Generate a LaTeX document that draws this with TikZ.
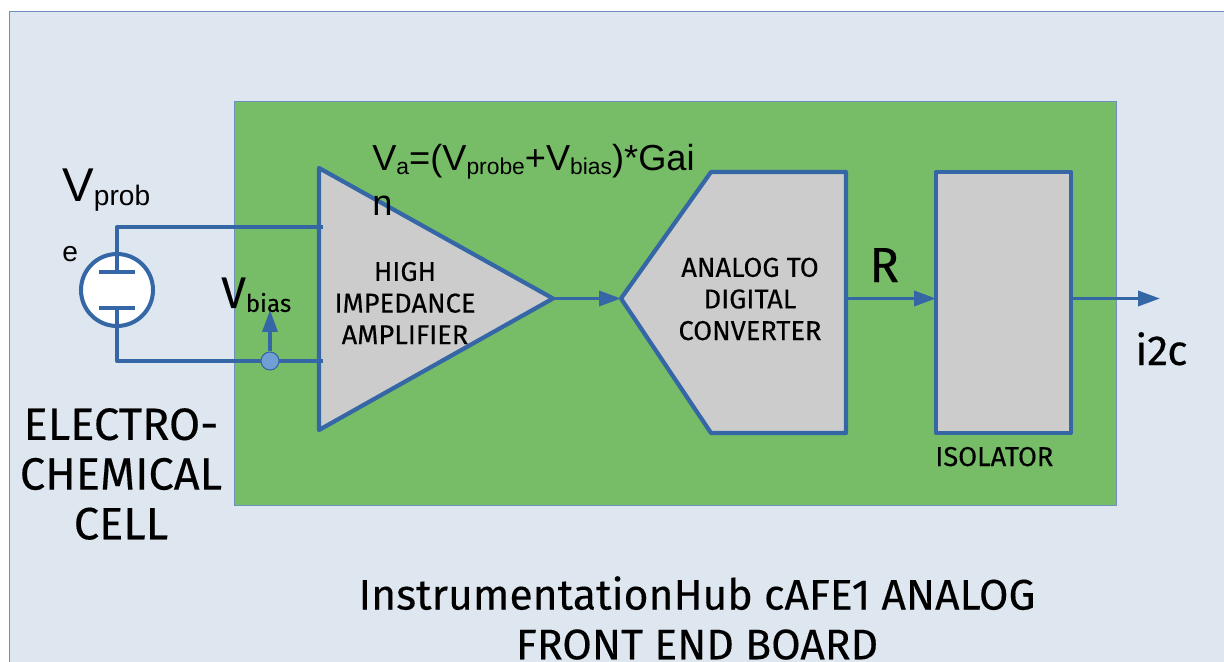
\documentclass[tikz,border=0pt]{standalone}
\usepackage{fontspec}
\setmainfont{Liberation Sans}
\newfontfamily\dinfont[FakeBold=0.25]{Fira Sans}
\usetikzlibrary{arrows.meta}
\definecolor{panelblue}{HTML}{DEE6F0}
\definecolor{boardgreen}{HTML}{77BC66}
\definecolor{wireblue}{HTML}{3566A6}
\definecolor{edgeblue}{HTML}{6F8FBF}
\definecolor{blockgray}{HTML}{CCCCCC}
\definecolor{dotblue}{HTML}{6F9FD3}
\newcommand{\lowtxt}[2]{\raisebox{-2.2pt}{\fontsize{#1}{#1}\selectfont #2}}
\begin{document}
\begin{tikzpicture}[
    x=0.02cm, y=-0.02cm,
    wire/.style={draw=wireblue, line width=2.3pt},
    sig/.style={draw=wireblue, line width=2.1pt, -{Triangle[length=12.5pt,width=8.5pt]}},
    block/.style={draw=wireblue, fill=blockgray, line width=2.4pt, line join=round},
    din/.style={font=\dinfont\fontsize{15.5pt}{18pt}\selectfont, align=center, inner sep=0pt},
    bigdin/.style={font=\dinfont\fontsize{25.7pt}{28.3pt}\selectfont, align=center, inner sep=0pt},
    titledin/.style={font=\dinfont\fontsize{24.3pt}{28.3pt}\selectfont, align=center, inner sep=0pt}
]
    \useasboundingbox (0,0) rectangle (1224,662);
    \clip (0,0) rectangle (1224,662);
    % Panels
    \node[draw=edgeblue, fill=panelblue, line width=0.7pt, minimum width=24.6cm, minimum height=13.4cm, inner sep=0pt, anchor=north west] (panel) at (9,11) {};
    \node[draw=edgeblue, fill=boardgreen, line width=0.7pt, minimum width=17.64cm, minimum height=8.08cm, inner sep=0pt, anchor=north west] (board) at (234,101) {};

    % Ports
    \coordinate (amptop) at (319,168);
    \coordinate (ampout) at (553,298.5);
    \coordinate (ampbot) at (319,430);
    \coordinate (ampinp) at (323,227);
    \coordinate (ampinn) at (323,361);
    \coordinate (adcin) at (621,298.5);
    \coordinate (adcout) at (846,298.5);
    \coordinate (isoin) at (936,298.5);
    \coordinate (isoout) at (1071,298.5);
    \coordinate (i2cend) at (1160,298.5);
    \coordinate (biasend) at (270,310);
    \coordinate (cellcorner1) at (117,227);
    \coordinate (cellcorner2) at (117,361);
    \coordinate (plate1l) at (99,272);
    \coordinate (plate1r) at (135,272);
    \coordinate (plate2l) at (99,308);
    \coordinate (plate2r) at (135,308);
    \coordinate (plate1) at (117,272);
    \coordinate (plate2) at (117,308);

    % Blocks
    \draw[block] (amptop) -- (ampout) -- (ampbot) -- cycle;
    \draw[block] (adcin) -- (711,172) -- (846,172) -- (846,433) -- (711,433) -- cycle;
    \node[block, minimum width=2.7cm, minimum height=5.22cm, inner sep=0pt] (isolator) at (1003.5,302.5) {};

    % Cell
    \node[circle, draw=wireblue, fill=white, line width=2.3pt, minimum size=1.44cm, inner sep=0pt] (cell) at (117,290) {};
    \draw[wire, line join=round] (ampinp) -- (cellcorner1) -- (plate1);
    \draw[wire, line join=round] (ampinn) -- (cellcorner2) -- (plate2);
    \draw[wire] (plate1l) -- (plate1r);
    \draw[wire] (plate2l) -- (plate2r);

    % Signals
    \node[circle, draw=wireblue, fill=dotblue, line width=0.6pt, minimum size=0.36cm, inner sep=0pt] (junction) at (270,361) {};
    \draw[sig] (junction) -- (biasend);
    \draw[sig] (ampout) -- (adcin);
    \draw[sig] (adcout) -- (isoin);
    \draw[sig] (isoout) -- (i2cend);

    % Labels
    \node[din] (amplabel) at (405,303) {HIGH\\IMPEDANCE\\AMPLIFIER};
    \node[din] (adclabel) at (750,299) {ANALOG TO\\DIGITAL\\CONVERTER};
    \node[din, anchor=base west] (isolabel) at (935,466) {ISOLATOR};
    \node[bigdin] (celllabel) at (121,474) {ELECTRO-\\CHEMICAL\\CELL};
    \node[titledin] (title) at (697,618) {InstrumentationHub cAFE1 ANALOG\\FRONT END BOARD};
    \node[anchor=base west, inner sep=0pt, font=\fontsize{27pt}{30pt}\selectfont] (vprob) at (62,202) {V\lowtxt{16pt}{prob}};
    \node[anchor=base west, inner sep=0pt, font=\fontsize{16pt}{20pt}\selectfont] (eletter) at (62,262) {e};
    \node[anchor=base west, inner sep=0pt, font=\dinfont\fontsize{25pt}{28pt}\selectfont] (vbias) at (221,308) {V\lowtxt{13.8pt}{bias}};
    \node[anchor=base west, inner sep=0pt, font=\dinfont\fontsize{28pt}{30pt}\selectfont] (rlabel) at (869,282) {R};
    \node[anchor=base west, inner sep=0pt, font=\dinfont\fontsize{24pt}{26pt}\selectfont] (i2c) at (1135,365) {i2c};
    \node[anchor=base west, inner sep=0pt, font=\fontsize{20.6pt}{25pt}\selectfont] (vaeq) at (372,171) {V\lowtxt{13pt}{a}=(V\lowtxt{13pt}{probe}+V\lowtxt{13pt}{bias})*Gai};
    \node[anchor=base west, inner sep=0pt, font=\fontsize{20.6pt}{25pt}\selectfont] (vaeqtail) at (372,216) {n};
\end{tikzpicture}
\end{document}
